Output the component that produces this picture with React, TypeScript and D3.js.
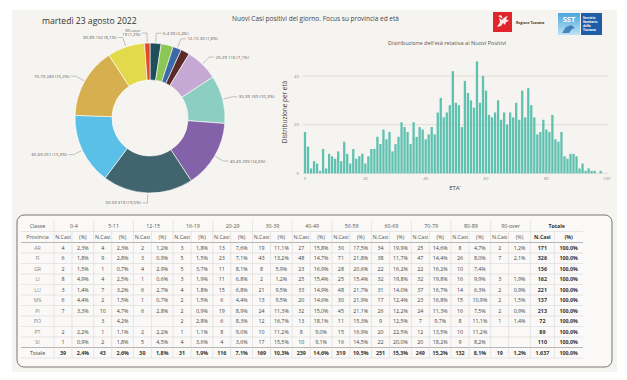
import React from "react";
import * as d3 from "d3";

// ---------- DATA ----------
const ageClasses = ["0-4", "5-11", "12-15", "16-19", "20-29", "30-39", "40-49", "50-59", "60-69", "70-79", "80-89", "90-over"];
const classTotals = [39, 43, 30, 31, 116, 169, 239, 319, 251, 249, 132, 19];
const classColors = ["#1f4f5b", "#8cc655", "#3c6aa9", "#5a2b29", "#c5a8d3", "#8ccfc2", "#8462a9", "#40656f", "#5bc0e7", "#d6b04e", "#e2da4a", "#e8482a"];
const hiddenLabels = ["5-11", "16-19"];
const wrappedLabels = ["90-over"];

const ageCounts = [
  17, 11, 2, 5, 4, 1, 10, 2, 8, 7,
  6, 9, 5, 13, 8, 4, 10, 6, 7, 8,
  4, 7, 10, 10, 15, 12, 18, 14, 17, 9,
  12, 15, 21, 19, 17, 12, 21, 15, 19, 18,
  14, 16, 19, 16, 25, 31, 23, 25, 28, 42,
  29, 28, 19, 38, 33, 30, 27, 46, 29, 40,
  34, 24, 23, 25, 30, 22, 25, 20, 25, 23,
  29, 22, 34, 23, 35, 28, 23, 16, 17, 22,
  18, 17, 24, 14, 13, 17, 7, 6, 8, 8,
  7, 2, 4, 1, 2, 1, 1, 0, 1,
];
const xTicks = [0, 20, 40, 60, 80, 100];
const yTicks = [0, 20, 40];

const provinces = ["AR", "FI", "GR", "LI", "LU", "MS", "PI", "PO", "PT", "SI"];
const provinceCounts: (number | null)[][] = [
  [4, 4, 2, 3, 13, 19, 27, 30, 34, 25, 8, 2],
  [6, 9, 3, 5, 23, 43, 48, 71, 38, 47, 26, 7],
  [2, 1, 4, 5, 11, 8, 23, 28, 22, 22, 10, null],
  [8, 4, 1, 3, 11, 2, 25, 25, 32, 32, 16, 3],
  [3, 7, 6, 4, 15, 21, 33, 48, 31, 37, 14, 2],
  [6, 2, 1, 2, 6, 13, 20, 30, 17, 23, 15, 2],
  [7, 10, 6, 2, 19, 24, 32, 45, 26, 24, 16, 2],
  [null, 3, null, 2, 6, 12, 13, 11, 9, 7, 8, 1],
  [2, 1, 2, 1, 8, 10, 8, 15, 20, 12, 10, null],
  [1, 2, 5, 4, 4, 17, 10, 16, 22, 20, 9, null],
];

const titleDate = "martedì 23 agosto 2022";
const titleMain = "Nuovi Casi positivi del giorno. Focus su provincia ed età";
const histTitle = "Distribuzione dell'età relativa ai Nuovi Positivi";

// ---------- HELPERS ----------
const itLocale = d3.formatLocale({ decimal: ",", thousands: ".", grouping: [3], currency: ["€", ""] });
const fmtInt = itLocale.format(",d");
const fmt1 = itLocale.format(".1f");
const pct = (v: number) => fmt1(v * 100) + "%";
const FONT = "'Open Sans', 'Noto Sans', sans-serif";

function Donut() {
  const cx = 150, cy = 118, rO = 75, rI = 38;
  const total = d3.sum(classTotals);
  const pie = d3.pie<number>().sort(null).value((d) => d)(classTotals);
  const arc = d3.arc<d3.PieArcDatum<number>>().innerRadius(rI).outerRadius(rO);
  return (
    <g>
      {pie.map((s, i) => (
        <path key={i} d={arc(s) || ""} transform={`translate(${cx},${cy})`} fill={classColors[i]} stroke="#ffffff" strokeWidth={0.6} />
      ))}
      {pie.map((s, i) => {
        if (hiddenLabels.includes(ageClasses[i])) return null;
        const a = (s.startAngle + s.endAngle) / 2;
        const p1 = [cx + (rO + 1) * Math.sin(a), cy - (rO + 1) * Math.cos(a)];
        const p2 = [cx + (rO + 10) * Math.sin(a), cy - (rO + 10) * Math.cos(a)];
        const right = a < Math.PI;
        const p3 = [p2[0] + (right ? 5 : -5), p2[1]];
        const tx = p3[0] + (right ? 1.5 : -1.5);
        const label1 = ageClasses[i];
        const label2 = `${classTotals[i]} (${pct(classTotals[i] / total)})`;
        const wrap = wrappedLabels.includes(ageClasses[i]);
        return (
          <g key={"l" + i}>
            <polyline points={`${p1[0]},${p1[1]} ${p2[0]},${p2[1]} ${p3[0]},${p3[1]}`} fill="none" stroke="#8a8a8a" strokeWidth={0.5} />
            {wrap ? (
              <text x={tx} y={p3[1]} fontSize={4.3} fill="#555" textAnchor={right ? "start" : "end"} fontFamily={FONT}>
                <tspan x={tx} dy={-1.3}>{label1}</tspan>
                <tspan x={tx} dy={4.6}>{label2}</tspan>
              </text>
            ) : (
              <text x={tx} y={p3[1] + 1.5} fontSize={4.3} fill="#555" textAnchor={right ? "start" : "end"} fontFamily={FONT}>
                {label1} {label2}
              </text>
            )}
          </g>
        );
      })}
    </g>
  );
}

function Histogram() {
  const x = d3.scaleLinear().domain([0, 100]).range([305, 606.7]);
  const y = d3.scaleLinear().domain([0, 50]).range([173.3, 51.7]);
  const bw = (x(1) - x(0)) * 0.76;
  return (
    <g fontFamily={FONT}>
      <text x={447} y={45} fontSize={5.6} fill="#555" textAnchor="middle">{histTitle}</text>
      {yTicks.map((t) => (
        <g key={t}>
          <line x1={303} x2={608} y1={y(t)} y2={y(t)} stroke="#d8d3cd" strokeWidth={0.7} />
          <text x={299} y={y(t) + 1.5} fontSize={4.3} fill="#888" textAnchor="end">{t}</text>
        </g>
      ))}
      {ageCounts.map((c, i) => (
        <rect key={i} x={x(i) - bw / 2} y={y(c)} width={bw} height={y(0) - y(c)} fill="#5fc1b0" />
      ))}
      {xTicks.map((t) => (
        <text key={t} x={x(t)} y={180} fontSize={4.3} fill="#888" textAnchor="middle">{t}</text>
      ))}
      <text x={455} y={189.5} fontSize={6} fill="#444" textAnchor="middle">ETA'</text>
      <text transform="translate(287,112) rotate(-90)" fontSize={6.4} fill="#444" textAnchor="middle">Distribuzione per età</text>
    </g>
  );
}

function Logos() {
  return (
    <g fontFamily={FONT}>
      <rect x={493} y={12} width={19} height={20} fill="#e1232b" />
      <path d="M497,27 L500,22 L499,18 L502,20 L505,17 L508,16 L506,19 L509,21 L506,22 L505,25 L503,23 L501,26 Z" fill="#ffffff" opacity={0.9} />
      <path d="M498,16 L503,19 L501,15 Z" fill="#ffffff" opacity={0.9} />
      <text x={516} y={24} fontSize={3.4} fontWeight="bold" fill="#333">Regione Toscana</text>
      <defs>
        <linearGradient id="sstg" x1="0" y1="0" x2="0" y2="1">
          <stop offset="0%" stopColor="#4aa6dd" />
          <stop offset="100%" stopColor="#bfe2f4" />
        </linearGradient>
      </defs>
      <rect x={558} y={13} width={22} height={22} fill="url(#sstg)" />
      <text x={569} y={21.5} fontSize={7.5} fontWeight="bold" fill="#ffffff" textAnchor="middle">SST</text>
      <path d="M562,33 L566,27 L571,25 L575,28 L572,29 L569,33 Z" fill="#2f6fb3" opacity={0.8} />
      <rect x={581} y={13} width={21} height={22} fill="#1f5ea6" />
      {["Servizio", "Sanitario", "della", "Toscana"].map((t, i) => (
        <text key={t} x={583} y={18.5 + i * 4} fontSize={3.2} fontWeight="bold" fill="#ffffff">{t}</text>
      ))}
    </g>
  );
}

function Table() {
  const x0 = 21, provW = 33, groupW = 39.7, nW = 18, totNW = 24, xEnd = 583;
  const totX = x0 + provW + groupW * ageClasses.length;
  const h1Top = 220.5, h2Top = 231.5, dataTop = 242.5, rowH = 10.5;
  const nRows = provinces.length + 1;
  const bottom = dataTop + nRows * rowH;
  const grandTotal = d3.sum(classTotals);
  const fs = 5.3;
  const gx = (k: number) => x0 + provW + k * groupW;

  const rowsData = provinces.map((p, r) => ({ name: p, counts: provinceCounts[r], total: d3.sum(provinceCounts[r].map((v) => v || 0)), bold: false }));
  rowsData.push({ name: "Totale", counts: classTotals, total: grandTotal, bold: true });

  return (
    <g fontFamily={FONT}>
      <rect x={17} y={215} width={595} height={152} rx={7} fill="#faf9f7" stroke="#777" strokeWidth={1} />
      {[h2Top, ...d3.range(nRows).map((i) => dataTop + i * rowH), bottom].map((yy, i) => {
        const dark = yy === dataTop || i === nRows;
        return <line key={"h" + i} x1={x0} x2={xEnd} y1={yy} y2={yy} stroke={dark ? "#9a9a9a" : "#d2d2d2"} strokeWidth={dark ? 0.7 : 0.5} />;
      })}
      {d3.range(ageClasses.length + 1).map((k) => (
        <line key={"vg" + k} x1={gx(k)} x2={gx(k)} y1={h1Top} y2={bottom} stroke="#d2d2d2" strokeWidth={0.5} />
      ))}
      {d3.range(ageClasses.length).map((k) => (
        <line key={"vs" + k} x1={gx(k) + nW} x2={gx(k) + nW} y1={h2Top} y2={bottom} stroke="#d2d2d2" strokeWidth={0.5} />
      ))}
      <line x1={totX + totNW} x2={totX + totNW} y1={h2Top} y2={bottom} stroke="#d2d2d2" strokeWidth={0.5} />

      <text x={x0 + provW / 2} y={h1Top + 7.3} fontSize={fs} fill="#555" textAnchor="middle">Classe</text>
      {ageClasses.map((c, k) => (
        <text key={c} x={gx(k) + groupW / 2} y={h1Top + 7.3} fontSize={fs} fill="#555" textAnchor="middle">{c}</text>
      ))}
      <text x={(totX + xEnd) / 2} y={h1Top + 7.3} fontSize={fs} fill="#333" fontWeight="bold" textAnchor="middle">Totale</text>
      <text x={x0 + provW / 2} y={h2Top + 7.3} fontSize={fs} fill="#555" textAnchor="middle">Provincia</text>
      {ageClasses.map((c, k) => (
        <g key={"h2" + c}>
          <text x={gx(k) + nW / 2} y={h2Top + 7.3} fontSize={fs} fill="#555" textAnchor="middle">N.Casi</text>
          <text x={gx(k) + nW + (groupW - nW) / 2} y={h2Top + 7.3} fontSize={fs} fill="#555" textAnchor="middle">(%)</text>
        </g>
      ))}
      <text x={totX + totNW / 2} y={h2Top + 7.3} fontSize={fs} fill="#333" fontWeight="bold" textAnchor="middle">N.Casi</text>
      <text x={(totX + totNW + xEnd) / 2} y={h2Top + 7.3} fontSize={fs} fill="#333" fontWeight="bold" textAnchor="middle">(%)</text>

      {rowsData.map((row, r) => {
        const yy = dataTop + r * rowH + rowH / 2 + 1.9;
        const fw = row.bold ? "bold" : "normal";
        const col = row.bold ? "#333" : "#444";
        return (
          <g key={row.name}>
            <text x={x0 + provW / 2} y={yy} fontSize={fs} fill={row.bold ? "#444" : "#888"} textAnchor="middle">{row.name}</text>
            {row.counts.map((v, k) =>
              v === null ? null : (
                <g key={k}>
                  <text x={gx(k) + nW / 2} y={yy} fontSize={fs} fill={col} fontWeight={fw} textAnchor="middle">{fmtInt(v)}</text>
                  <text x={gx(k) + nW + (groupW - nW) / 2} y={yy} fontSize={fs} fill={col} fontWeight={fw} textAnchor="middle">{pct(v / row.total)}</text>
                </g>
              )
            )}
            <text x={totX + totNW / 2} y={yy} fontSize={fs} fill="#333" fontWeight="bold" textAnchor="middle">{fmtInt(row.total)}</text>
            <text x={(totX + totNW + xEnd) / 2} y={yy} fontSize={fs} fill="#333" fontWeight="bold" textAnchor="middle">{pct(1)}</text>
          </g>
        );
      })}
    </g>
  );
}

export default function App() {
  return (
    <svg width={627} height={380} viewBox="0 0 627 380" style={{ position: "absolute", left: 0, top: 0, display: "block" }}>
      <rect x={0} y={0} width={627} height={380} fill="#ffffff" />
      <rect x={12} y={10} width={605} height={362} fill="#f6f4f0" />
      <text x={42} y={24} fontSize={8.6} fill="#333" fontFamily={FONT}>{titleDate}</text>
      <text x={232} y={20.5} fontSize={6.5} fill="#444" fontFamily={FONT}>{titleMain}</text>
      <Logos />
      <Donut />
      <Histogram />
      <Table />
    </svg>
  );
}
